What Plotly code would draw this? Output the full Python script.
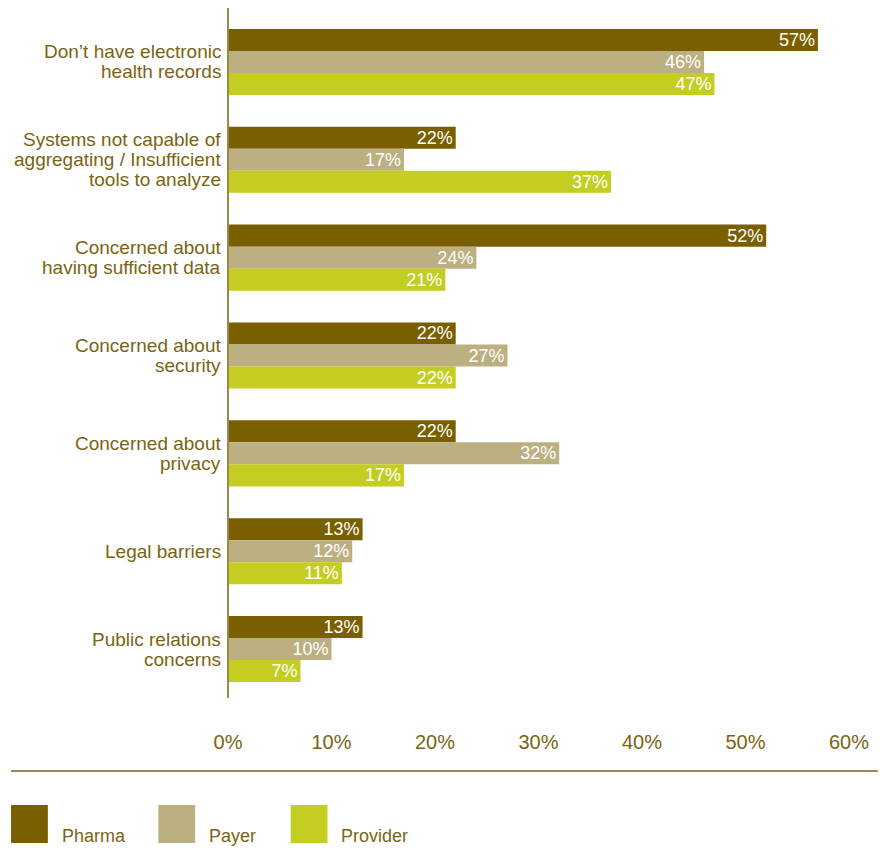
import plotly.graph_objects as go

# Barriers to using data, by industry segment (% of respondents)
categories = [
    "Don’t have electronic<br>health records",
    "Systems not capable of<br>aggregating / Insufficient<br>tools to analyze",
    "Concerned about<br>having sufficient data",
    "Concerned about<br>security",
    "Concerned about<br>privacy",
    "Legal barriers",
    "Public relations<br>concerns",
]
series_names = ["Pharma", "Payer", "Provider"]
pharma = [57, 22, 52, 22, 22, 13, 13]
payer = [46, 17, 24, 27, 32, 12, 10]
provider = [47, 37, 21, 22, 17, 11, 7]
tick_values = [0, 10, 20, 30, 40, 50, 60]
tick_labels = ["0%", "10%", "20%", "30%", "40%", "50%", "60%"]

colors = ["#7a5f00", "#bcb082", "#c4cd22"]
text_color = "#7a6414"
font_main = "Liberation Sans, Arial, sans-serif"

fig = go.Figure()
for name, vals, col in zip(series_names, [pharma, payer, provider], colors):
    fig.add_trace(go.Bar(
        y=categories,
        x=vals,
        name=name,
        orientation="h",
        marker=dict(color=col, line=dict(width=0)),
        text=[f"{v}%" for v in vals],
        textposition="inside",
        insidetextanchor="end",
        constraintext="none",
        textfont=dict(color="white", size=18, family=font_main),
        textangle=0,
        showlegend=False,
        hoverinfo="skip",
    ))

# plot area: x from 228 to 852 px, y from 13 to 698 px
L, T, R, B = 228, 13, 29, 152
W, H = 881, 850
pw, ph = W - L - R, H - T - B

shapes = [
    # vertical axis line
    dict(type="line", xref="paper", yref="paper", x0=0, x1=0,
         y0=0, y1=1 + 5 / ph, line=dict(color="#9a8a48", width=2)),
    # divider above the legend
    dict(type="line", xref="paper", yref="paper",
         x0=(10 - L) / pw, x1=(W - L) / pw,
         y0=-(771 - (T + ph)) / ph, y1=-(771 - (T + ph)) / ph,
         line=dict(color="#9a8a48", width=2)),
]
annotations = []

# category labels, one annotation per line for tight line spacing
line_step = 20
for cat in categories:
    lines = cat.split("<br>")
    n = len(lines)
    for i, ln in enumerate(lines):
        offset = ((n - 1) / 2 - i) * line_step
        annotations.append(dict(
            xref="paper", yref="y", x=0, y=cat, xshift=-5, yshift=offset,
            text=ln, showarrow=False, xanchor="right", yanchor="middle",
            font=dict(color=text_color, size=19, family=font_main),
        ))

# legend swatches and labels
legend_x = [10, 158, 291]
for name, col, lx in zip(series_names, colors, legend_x):
    shapes.append(dict(
        type="rect", xref="paper", yref="paper",
        x0=(lx - L) / pw, x1=(lx + 37 - L) / pw,
        y0=-(843 - (T + ph)) / ph, y1=-(805 - (T + ph)) / ph,
        fillcolor=col, line=dict(width=0),
    ))
    annotations.append(dict(
        xref="paper", yref="paper",
        x=(lx + 49 - L) / pw, y=-(836 - (T + ph)) / ph,
        text=name, showarrow=False, xanchor="left", yanchor="middle",
        font=dict(color=text_color, size=18, family=font_main),
    ))

fig.update_layout(
    width=W, height=H,
    margin=dict(l=L, r=R, t=T, b=B),
    paper_bgcolor="white", plot_bgcolor="white",
    barmode="group",
    bargap=0.325,
    bargroupgap=0,
    shapes=shapes,
    annotations=annotations,
    xaxis=dict(
        range=[0, 60],
        tickvals=tick_values,
        ticktext=tick_labels,
        showgrid=False, zeroline=False, showline=False,
        ticks="", ticklabelstandoff=30,
        tickfont=dict(color=text_color, size=20,
                      family="Liberation Sans Narrow, Liberation Sans, Arial, sans-serif"),
        fixedrange=True,
    ),
    yaxis=dict(
        autorange="reversed",
        showgrid=False, zeroline=False, showline=False,
        showticklabels=False, ticks="",
        fixedrange=True,
    ),
    font=dict(family=font_main, color=text_color),
)

fig.write_html("out.html")
